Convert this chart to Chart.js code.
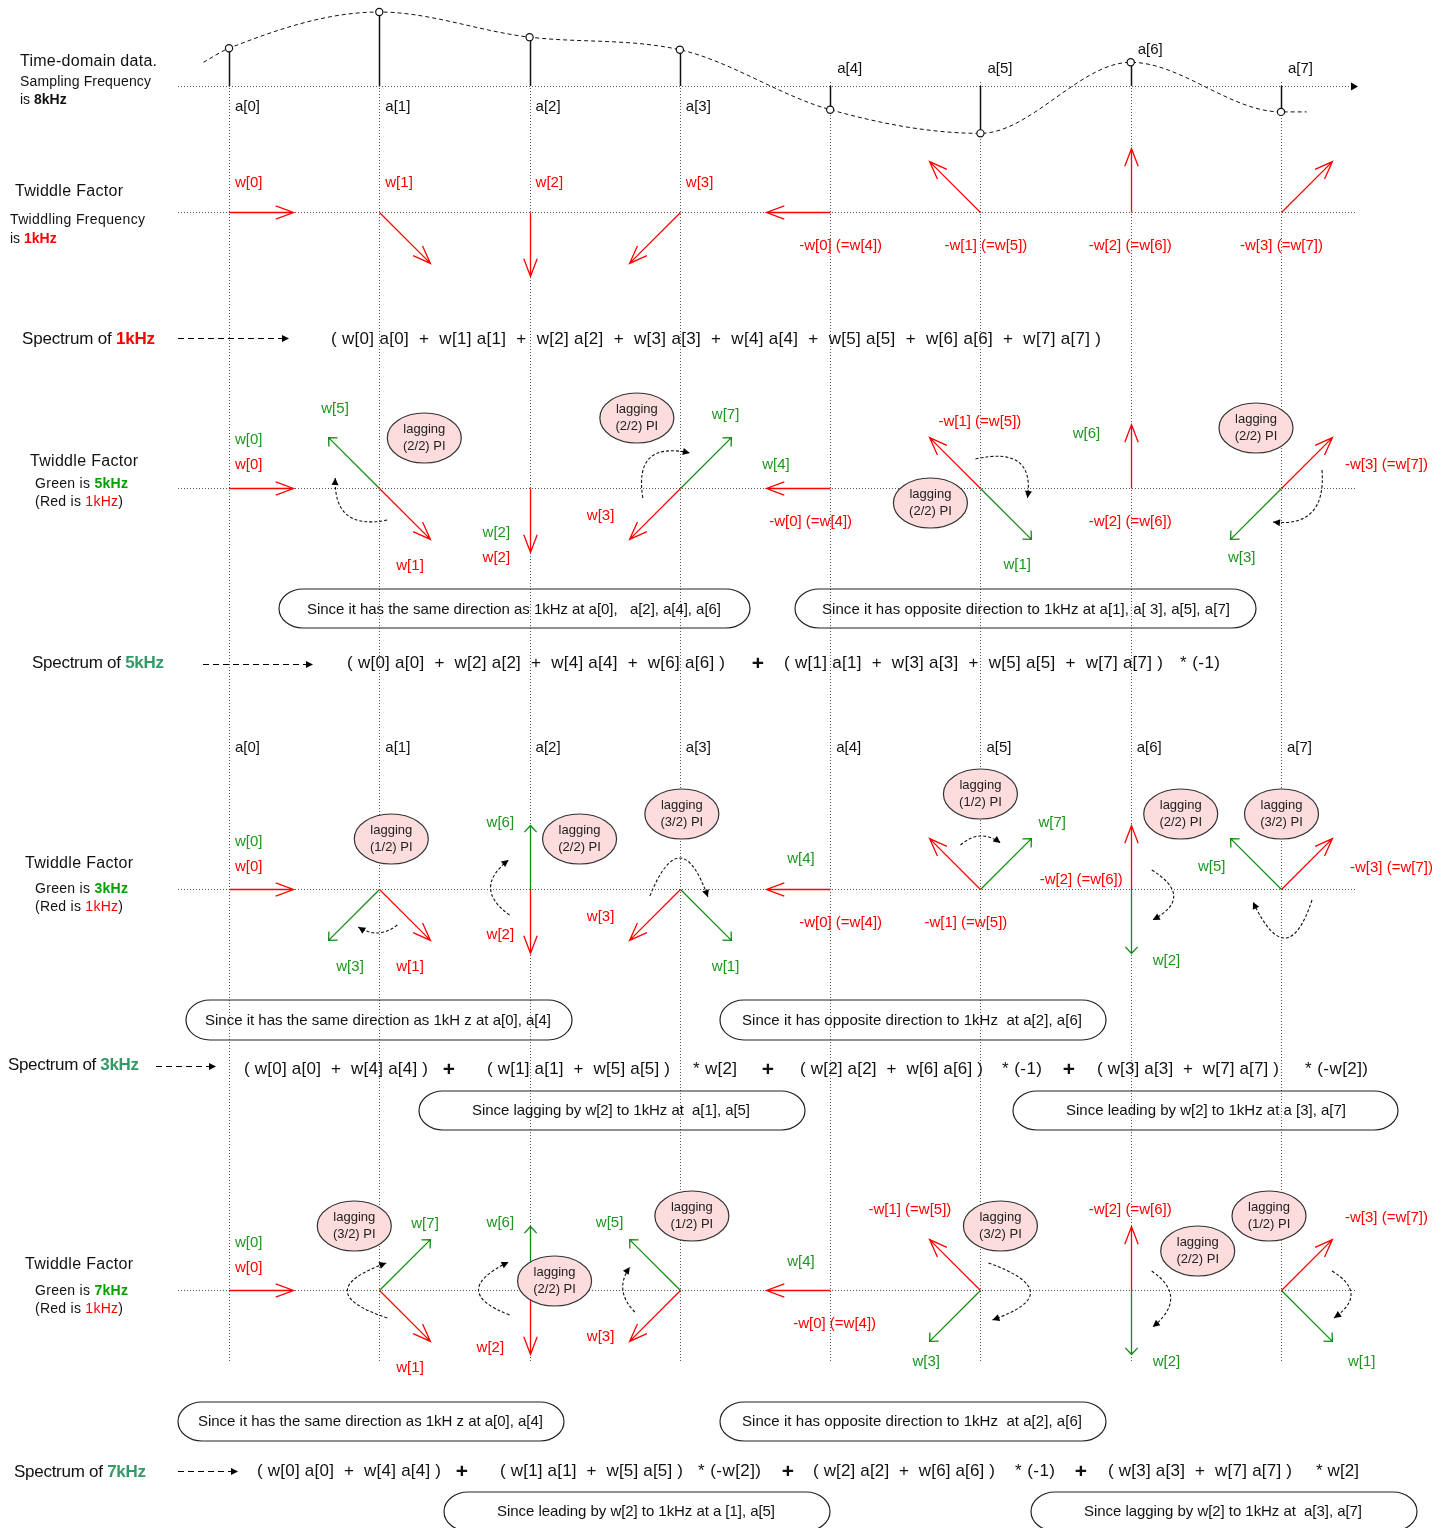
<!DOCTYPE html>
<html><head><meta charset="utf-8">
<script src="https://cdn.jsdelivr.net/npm/chart.js@4.4.1/dist/chart.umd.min.js"></script>
<style>html,body{margin:0;padding:0;background:#fff;}canvas{display:block;}</style>
</head><body>
<canvas id="c" width="1449" height="1528"></canvas>
<script>
// ================= DATA =================
const N = 8;                                   // number of samples
const sampleRate = 8;                          // kHz
const baseFreq = 1;                            // kHz (red twiddle)
const compareFreqs = [5, 3, 7];                // kHz (green twiddles)
const sampleIndex = [0, 1, 2, 3, 4, 5, 6, 7];
const sampleLabels = ['a[0]', 'a[1]', 'a[2]', 'a[3]', 'a[4]', 'a[5]', 'a[6]', 'a[7]'];
const sampleValues = [0.51, 1.00, 0.66, 0.49, -0.32, -0.64, 0.32, -0.35];
const curveStart = { x: -0.17, y: 0.32 };      // ends of the underlying analog curve
const curveEnd = { x: 7.17, y: -0.35 };
const groups5 = [[0, 2, 4, 6], [1, 3, 5, 7]];
const factors5 = ['', '* (-1)'];
const groups37 = [[0, 4], [1, 5], [2, 6], [3, 7]];
const factors3 = ['', '* w[2]', '* (-1)', '* (-w[2])'];
const factors7 = ['', '* (-w[2])', '* (-1)', '* w[2]'];
const calloutTexts = [
  'Since it has the same direction as 1kHz at a[0],   a[2], a[4], a[6]',
  'Since it has opposite direction to 1kHz at a[1], a[ 3], a[5], a[7]',
  'Since it has the same direction as 1kH z at a[0], a[4]',
  'Since it has opposite direction to 1kHz  at a[2], a[6]',
  'Since lagging by w[2] to 1kHz at  a[1], a[5]',
  'Since leading by w[2] to 1kHz at a [3], a[7]',
  'Since it has the same direction as 1kH z at a[0], a[4]',
  'Since it has opposite direction to 1kHz  at a[2], a[6]',
  'Since leading by w[2] to 1kHz at a [1], a[5]',
  'Since lagging by w[2] to 1kHz at  a[3], a[7]'
];

// ================= LAYOUT (positions / styles) =================
const W = 1449, H = 1528;
const L = {
  col0: 229, colStep: 150.2857, axisY: 86, ampScale: 74,
  hx0: 178, hx1: 1355, axisEnd: 1351,
  guideRows: [86, 212, 488, 889, 1290],
  vTop: 82, vBot: 1363,
  rowY: { 1: 212, 5: 488, 3: 889, 7: 1290 },
  aTop: [[6, 111], [6, 111], [6, 111], [6, 111], [7, 73], [7, 73], [7, 54], [7, 73]],
  aMidY: 752,
  ellipse: {
    5: { 1: [45, -50], 3: [-43, -70], 5: [-50, 15], 7: [-25, -60] },
    3: { 1: [12, -50], 2: [50, -50], 3: [2, -75], 5: [0, -95], 6: [50, -75], 7: [0.5, -75] },
    7: { 1: [-25, -64], 2: [25, -9], 3: [12, -74], 5: [20, -64], 6: [67, -39], 7: [-12, -74] }
  },
  curve: {
    5: { 1: [[8, 32], [-32, 27], [-44, -10]], 3: [[-37, 10], [-30, -30], [10, -35]],
         5: [[-5, -29], [38, -26], [47, 10]], 7: [[41, -18], [31, 24], [-8, 34]] },
    3: { 1: [[18, 36], [-1, 44], [-21, 38]], 2: [[-20, 26], [-39, -1], [-21, -29]],
         3: [[-30, 7], [0, -31], [28, 8]], 5: [[-20, -44], [0, -53], [20, -46]],
         6: [[21, -19], [43, 7], [22, 31]], 7: [[31, 11], [4, 49], [-28, 13]] },
    7: { 1: [[8, 28], [-32, 1], [7, -27]], 2: [[-20, 25], [-51, 0], [-21, -28]],
         3: [[-45, 22], [-57, 0], [-50, -23]], 5: [[8, -27], [50, 2], [12, 30]],
         6: [[21, -19], [40, 8], [22, 37]], 7: [[51, -19], [70, 4], [53, 28]] }
  },
  boxes: [
    [279, 750, 589, 628, 307, 721, 614], [795, 1256, 589, 628, 822, 1230, 614],
    [186, 572, 1000, 1040, 205, 551, 1025], [720, 1106, 1000, 1040, 742, 1082, 1025],
    [419, 805, 1091, 1130, 472, 750, 1115], [1013, 1398, 1091, 1130, 1066, 1346, 1115],
    [178, 564, 1402, 1441, 198, 543, 1426], [720, 1106, 1402, 1441, 742, 1082, 1426],
    [444, 830, 1492, 1531, 497, 775, 1516], [1031, 1417, 1492, 1531, 1084, 1362, 1516]
  ],
  spec: {
    1: { label: [22, 344, 133], arrow: [178, 289, 338], base: 344, pos: [[331, 1101]] },
    5: { label: [32, 668, 132], arrow: [203, 313, 664], base: 668,
         pos: [[347, 725], [758], [784, 1163], [1180, 1220]] },
    3: { label: [8, 1070, 131], arrow: [156, 216, 1066], base: 1074,
         pos: [[244, 428], [449], [487, 670], [693, 737], [768], [800, 983], [1002, 1042], [1069], [1097, 1279], [1305, 1368]] },
    7: { label: [14, 1477, 132], arrow: [178, 238, 1471], base: 1476,
         pos: [[257, 441], [462], [500, 683], [698, 761], [788], [813, 995], [1015, 1055], [1081], [1108, 1292], [1316, 1359]] }
  }
};
const C = { red: '#ff0000', green: '#138c13', gtext: '#1f951f', gbold: '#00a000', sea: '#339966',
            black: '#111111', pink: '#fcdcdc', dot: '#555555' };
const FONT = '"Liberation Sans", Arial, Helvetica, sans-serif';

const w = k => `w[${k}]`;
const neg = k => `-w[${k}] (=w[${k + 4}])`;
const term = k => `w[${k}] a[${k}]`;
const group = ks => '( ' + ks.map(term).join('  +  ') + ' )';

// labels: [text, colour, column, dx, baseline]
const labels = [
  [w(0), 'R', 0, 6, 187], [w(1), 'R', 1, 6, 187], [w(2), 'R', 2, 6, 187], [w(3), 'R', 3, 6, 187],
  [neg(0), 'R', 4, -31, 250], [neg(1), 'R', 5, -36, 250], [neg(2), 'R', 6, -42, 250], [neg(3), 'R', 7, -41, 250],
  // 5 kHz
  [w(0), 'G', 0, 6, 444], [w(0), 'R', 0, 6, 469], [w(5), 'G', 1, -58, 413], [w(1), 'R', 1, 17, 570],
  [w(2), 'G', 2, -47, 537], [w(2), 'R', 2, -47, 562], [w(3), 'R', 3, -93, 520], [w(7), 'G', 3, 32, 419],
  [w(4), 'G', 4, -68, 469], [neg(0), 'R', 4, -61, 526], [neg(1), 'R', 5, -42, 426], [w(1), 'G', 5, 23, 569],
  [w(6), 'G', 6, -58, 438], [neg(2), 'R', 6, -42, 526], [neg(3), 'R', 7, 64, 469], [w(3), 'G', 7, -53, 562],
  // 3 kHz
  [w(0), 'G', 0, 6, 846], [w(0), 'R', 0, 6, 871], [w(3), 'G', 1, -43, 971], [w(1), 'R', 1, 17, 971],
  [w(6), 'G', 2, -43, 827], [w(2), 'R', 2, -43, 939], [w(3), 'R', 3, -93, 921], [w(1), 'G', 3, 32, 971],
  [w(4), 'G', 4, -43, 863], [neg(0), 'R', 4, -31, 927], [neg(1), 'R', 5, -56, 927], [w(7), 'G', 5, 58, 827],
  [neg(2), 'R', 6, -91, 884], [w(2), 'G', 6, 22, 965], [w(5), 'G', 7, -83, 871], [neg(3), 'R', 7, 69, 872],
  // 7 kHz
  [w(0), 'G', 0, 6, 1247], [w(0), 'R', 0, 6, 1272], [w(7), 'G', 1, 32, 1228], [w(1), 'R', 1, 17, 1372],
  [w(6), 'G', 2, -43, 1227], [w(2), 'R', 2, -53, 1352], [w(5), 'G', 3, -84, 1227], [w(3), 'R', 3, -93, 1341],
  [w(4), 'G', 4, -43, 1266], [neg(0), 'R', 4, -37, 1328], [neg(1), 'R', 5, -112, 1214], [w(3), 'G', 5, -68, 1366],
  [neg(2), 'R', 6, -42, 1214], [w(2), 'G', 6, 22, 1366], [neg(3), 'R', 7, 64, 1222], [w(1), 'G', 7, 67, 1366]
];

// legend texts: [runs, x, baseline, size, fitWidth]
const K = t => [t, C.black, false];
const legends = [
  [[K('Time-domain data.')], 20, 66, 16, 137],
  [[K('Sampling Frequency')], 20, 86, 14, 131],
  [[K('is '), ['8kHz', C.black, true]], 20, 104, 14, 0],
  [[K('Twiddle Factor')], 15, 196, 16, 108],
  [[K('Twiddling Frequency')], 10, 224, 14, 135],
  [[K('is '), ['1kHz', C.red, true]], 10, 243, 14, 0],
  [[K('Twiddle Factor')], 30, 466, 16, 108],
  [[K('Green is '), ['5kHz', C.gbold, true]], 35, 488, 14, 93],
  [[K('(Red is '), ['1kHz', C.red, false], K(')')], 35, 506, 14, 88],
  [[K('Twiddle Factor')], 25, 868, 16, 108],
  [[K('Green is '), ['3kHz', C.gbold, true]], 35, 893, 14, 93],
  [[K('(Red is '), ['1kHz', C.red, false], K(')')], 35, 911, 14, 88],
  [[K('Twiddle Factor')], 25, 1269, 16, 108],
  [[K('Green is '), ['7kHz', C.gbold, true]], 35, 1295, 14, 93],
  [[K('(Red is '), ['1kHz', C.red, false], K(')')], 35, 1313, 14, 88]
];

// ================= DRAW HELPERS =================
const font = (sz, b) => (b ? 'bold ' : '') + sz + 'px ' + FONT;
function runsText(ctx, runs, x, y, sz, fitW, align) {
  ctx.save();
  ctx.textBaseline = 'alphabetic'; ctx.textAlign = 'left';
  const hasLS = 'letterSpacing' in ctx;
  if (hasLS) ctx.letterSpacing = '0px';
  const widths = runs.map(r => { ctx.font = font(r[3] || sz, r[2]); return ctx.measureText(r[0]).width; });
  const total = widths.reduce((a, b) => a + b, 0);
  const chars = runs.reduce((a, r) => a + r[0].length, 0);
  let ls = 0, sx = 1;
  if (fitW) { if (hasLS) ls = (fitW - total) / Math.max(1, chars - 1); else sx = fitW / total; }
  const wd = fitW || total;
  const x0 = align === 'center' ? x - wd / 2 : x;
  ctx.translate(x0, y); ctx.scale(sx, 1);
  let cx = 0;
  runs.forEach((r, i) => {
    ctx.font = font(r[3] || sz, r[2]);
    if (hasLS) ctx.letterSpacing = ls + 'px';
    ctx.fillStyle = r[1];
    ctx.fillText(r[0], cx, 0);
    cx += widths[i] + ls * r[0].length;
  });
  ctx.restore();
}
function dotted(ctx, x0, y0, x1, y1) {
  ctx.save(); ctx.strokeStyle = C.dot; ctx.lineWidth = 1; ctx.setLineDash([1, 2]);
  ctx.beginPath(); ctx.moveTo(x0, y0); ctx.lineTo(x1, y1); ctx.stroke(); ctx.restore();
}
function openArrow(ctx, x0, y0, x1, y1, color, hl, ha, lw) {
  ctx.save(); ctx.strokeStyle = color; ctx.lineWidth = lw; ctx.setLineDash([]);
  ctx.lineJoin = 'miter'; ctx.lineCap = 'butt';
  const a = Math.atan2(y1 - y0, x1 - x0);
  ctx.beginPath(); ctx.moveTo(x0, y0); ctx.lineTo(x1, y1);
  ctx.moveTo(x1 + hl * Math.cos(a + Math.PI - ha), y1 + hl * Math.sin(a + Math.PI - ha));
  ctx.lineTo(x1, y1);
  ctx.lineTo(x1 + hl * Math.cos(a + Math.PI + ha), y1 + hl * Math.sin(a + Math.PI + ha));
  ctx.stroke(); ctx.restore();
}
function filledHead(ctx, x, y, ang, len, half) {
  ctx.save(); ctx.fillStyle = '#000'; ctx.setLineDash([]);
  ctx.beginPath(); ctx.moveTo(x, y);
  ctx.lineTo(x - len * Math.cos(ang) + half * Math.sin(ang), y - len * Math.sin(ang) - half * Math.cos(ang));
  ctx.lineTo(x - len * Math.cos(ang) - half * Math.sin(ang), y - len * Math.sin(ang) + half * Math.cos(ang));
  ctx.closePath(); ctx.fill(); ctx.restore();
}
function dashedArrow(ctx, x0, x1, y) {
  ctx.save(); ctx.strokeStyle = '#000'; ctx.lineWidth = 1.2; ctx.setLineDash([6, 4]);
  ctx.beginPath(); ctx.moveTo(x0, y); ctx.lineTo(x1 - 5, y); ctx.stroke(); ctx.restore();
  filledHead(ctx, x1, y, 0, 7, 3.5);
}
function pill(ctx, x0, x1, y0, y1) {
  const rx = 24, ry = (y1 - y0) / 2, cy = (y0 + y1) / 2;
  ctx.save(); ctx.strokeStyle = '#222'; ctx.lineWidth = 1.2; ctx.setLineDash([]);
  ctx.beginPath();
  ctx.moveTo(x0 + rx, y0); ctx.lineTo(x1 - rx, y0);
  ctx.ellipse(x1 - rx, cy, rx, ry, 0, -Math.PI / 2, Math.PI / 2);
  ctx.lineTo(x0 + rx, y1);
  ctx.ellipse(x0 + rx, cy, rx, ry, 0, Math.PI / 2, Math.PI * 1.5);
  ctx.closePath(); ctx.stroke(); ctx.restore();
}
function twiddleDir(f, n) {
  const th = -2 * Math.PI * f * n / sampleRate;
  const c = Math.round(Math.cos(th) * 1e9) / 1e9, s = Math.round(Math.sin(th) * 1e9) / 1e9;
  return { c, s, r: 64 + 8 * Math.abs(Math.sin(2 * th)), k: ((f * n) % sampleRate + sampleRate) % sampleRate };
}

// ================= PLUGIN =================
const diagram = {
  id: 'diagram',
  beforeDatasetsDraw(chart) {
    const ctx = chart.ctx, X = chart.scales.x, Y = chart.scales.y, A = chart.scales.ya;
    const px = v => X.getPixelForValue(v), py = v => Y.getPixelForValue(v);
    L.guideRows.forEach((r, i) => {
      const y = Math.round(py(r)) + 0.5;
      dotted(ctx, L.hx0, y, i === 0 ? L.axisEnd : L.hx1, y);
    });
    filledHead(ctx, L.axisEnd + 7, Math.round(py(L.axisY)) + 0.5, 0, 7, 4);
    sampleIndex.forEach(n => {
      const x = Math.round(px(n)) + 0.5;
      dotted(ctx, x, py(L.vTop), x, py(L.vBot));
    });
    ctx.save(); ctx.strokeStyle = '#111'; ctx.lineWidth = 1.5; ctx.setLineDash([]);
    sampleIndex.forEach((n, i) => {
      const x = Math.round(px(n)) + 0.5;
      ctx.beginPath(); ctx.moveTo(x, A.getPixelForValue(0)); ctx.lineTo(x, A.getPixelForValue(sampleValues[i])); ctx.stroke();
    });
    ctx.restore();
  },
  afterDatasetsDraw(chart) {
    const ctx = chart.ctx, X = chart.scales.x, Y = chart.scales.y;
    const px = v => X.getPixelForValue(v), py = v => Y.getPixelForValue(v);

    sampleIndex.forEach((n, i) => {
      runsText(ctx, [[sampleLabels[i], C.black, false]], px(n) + L.aTop[i][0], py(L.aTop[i][1]), 15, 0);
      runsText(ctx, [[sampleLabels[i], C.black, false]], px(n) + 6, py(L.aMidY), 15, 0);
    });

    // twiddle arrows (green = compared frequency, red = 1 kHz on top)
    const rows = [baseFreq].concat(compareFreqs);
    rows.forEach((f, ri) => {
      const y0 = Math.round(py(L.rowY[f])) + 0.5;
      sampleIndex.forEach(n => {
        const x0 = Math.round(px(n)) + 0.5;
        const r = twiddleDir(baseFreq, n);
        if (ri > 0) {
          const g = twiddleDir(f, n);
          if (g.k !== r.k) openArrow(ctx, x0, y0, x0 + g.r * g.c, y0 - g.r * g.s, C.green, 9, 0.75, 1.3);
        }
        openArrow(ctx, x0, y0, x0 + r.r * r.c, y0 - r.r * r.s, C.red, 19, 0.36, 1.3);
      });
    });

    // rotation curves + lagging ellipses
    compareFreqs.forEach(f => {
      const y0 = py(L.rowY[f]);
      sampleIndex.forEach(n => {
        const q = ((f - baseFreq) * n / 2) % 4;      // lag in units of PI/2
        if (q === 0) return;
        const x0 = px(n);
        const cv = L.curve[f][n];
        if (cv) {
          const s = [x0 + cv[0][0], y0 + cv[0][1]], m = [x0 + cv[1][0], y0 + cv[1][1]], e = [x0 + cv[2][0], y0 + cv[2][1]];
          const c = [2 * m[0] - (s[0] + e[0]) / 2, 2 * m[1] - (s[1] + e[1]) / 2];
          ctx.save(); ctx.strokeStyle = '#111'; ctx.lineWidth = 1.1; ctx.setLineDash([3, 2]);
          ctx.beginPath(); ctx.moveTo(s[0], s[1]); ctx.quadraticCurveTo(c[0], c[1], e[0], e[1]); ctx.stroke(); ctx.restore();
          filledHead(ctx, e[0], e[1], Math.atan2(e[1] - c[1], e[0] - c[0]), 7, 3.5);
        }
        const ep = L.ellipse[f][n];
        if (ep) {
          const cx = x0 + ep[0], cy = y0 + ep[1];
          ctx.save(); ctx.fillStyle = C.pink; ctx.strokeStyle = '#333'; ctx.lineWidth = 1.2; ctx.setLineDash([]);
          ctx.beginPath(); ctx.ellipse(cx, cy, 37, 25, 0, 0, Math.PI * 2); ctx.fill(); ctx.stroke(); ctx.restore();
          runsText(ctx, [['lagging', '#222', false]], cx, cy - 5.5, 13, 0, 'center');
          runsText(ctx, [[`(${q}/2) PI`, '#222', false]], cx, cy + 11.5, 13, 0, 'center');
        }
      });
    });

    labels.forEach(l => {
      const col = l[1] === 'R' ? C.red : C.gtext;
      runsText(ctx, [[l[0], col, false]], px(l[2]) + l[3], py(l[4]), 15, 0);
    });

    legends.forEach(g => runsText(ctx, g[0], g[1], py(g[2]), g[3], g[4]));

    const specPieces = {
      1: [group(sampleIndex)],
      5: [group(groups5[0]), '+', group(groups5[1]), factors5[1]],
      3: [group(groups37[0]), '+', group(groups37[1]), factors3[1], '+', group(groups37[2]), factors3[2], '+', group(groups37[3]), factors3[3]],
      7: [group(groups37[0]), '+', group(groups37[1]), factors7[1], '+', group(groups37[2]), factors7[2], '+', group(groups37[3]), factors7[3]]
    };
    [1, 5, 3, 7].forEach(f => {
      const sp = L.spec[f];
      const fcol = f === 1 ? C.red : C.sea;
      runsText(ctx, [['Spectrum of ', C.black, false], [f + 'kHz', fcol, true]], sp.label[0], py(sp.label[1]), 17, sp.label[2]);
      dashedArrow(ctx, sp.arrow[0], sp.arrow[1], Math.round(py(sp.arrow[2])) + 0.5);
      specPieces[f].forEach((t, i) => {
        const p = sp.pos[i];
        if (t === '+') runsText(ctx, [['+', C.black, true]], p[0], py(sp.base + 2), 21, 0, 'center');
        else runsText(ctx, [[t, C.black, false]], p[0], py(sp.base), 17, p[1] - p[0]);
      });
    });

    L.boxes.forEach((b, i) => {
      pill(ctx, b[0], b[1], py(b[2]), py(b[3]));
      runsText(ctx, [[calloutTexts[i], C.black, false]], b[4], py(b[6]), 15, b[5] - b[4]);
    });
  }
};

// ================= CHART =================
const curveData = [curveStart].concat(sampleIndex.map((n, i) => ({ x: n, y: sampleValues[i] }))).concat([curveEnd]);
const sampleData = sampleIndex.map((n, i) => ({ x: n, y: sampleValues[i] }));

new Chart(document.getElementById('c'), {
  type: 'scatter',
  data: {
    datasets: [
      { label: 'samples', data: sampleData, yAxisID: 'ya', pointRadius: 3.6, pointHoverRadius: 3.6,
        pointBackgroundColor: '#fff', pointBorderColor: '#111', pointBorderWidth: 1.2, showLine: false },
      { type: 'line', label: 'signal', data: curveData, yAxisID: 'ya', borderColor: '#111', borderWidth: 1,
        borderDash: [4, 3], pointRadius: 0, fill: false, cubicInterpolationMode: 'monotone' }
    ]
  },
  options: {
    responsive: false, animation: false, events: [], devicePixelRatio: 1,
    layout: { padding: 0, autoPadding: false },
    plugins: { legend: { display: false }, tooltip: { enabled: false } },
    scales: {
      x: { type: 'linear', display: false, min: -L.col0 / L.colStep, max: (W - L.col0) / L.colStep },
      y: { type: 'linear', display: false, min: 0, max: H, reverse: true },
      ya: { type: 'linear', display: false, position: 'left', min: (L.axisY - H) / L.ampScale, max: L.axisY / L.ampScale }
    }
  },
  plugins: [diagram]
});
</script>
</body></html>
